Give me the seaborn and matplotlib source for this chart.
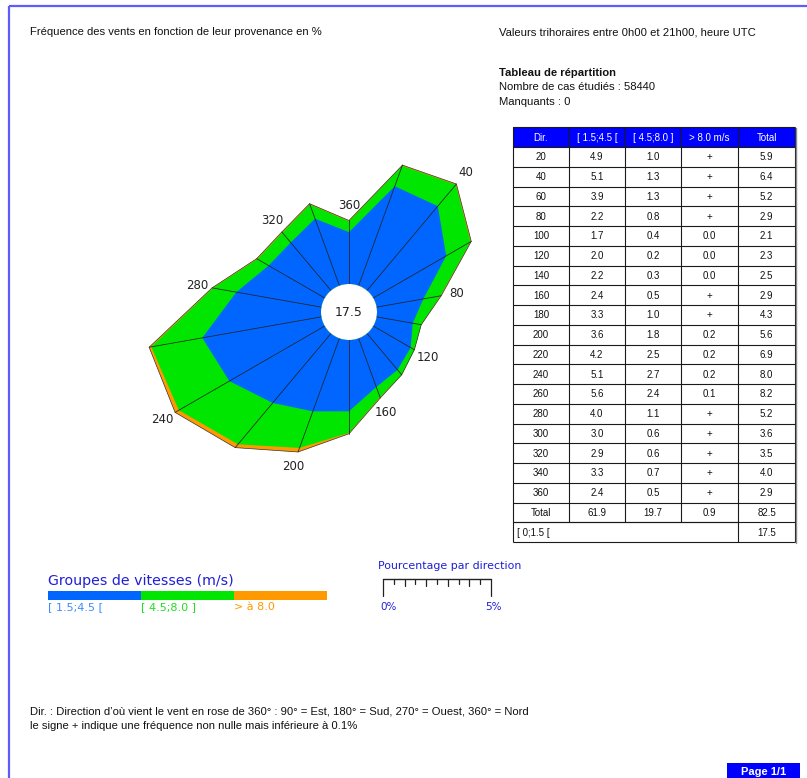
import numpy as np
import matplotlib
matplotlib.use("Agg")
import matplotlib.pyplot as plt
import seaborn as sns
from matplotlib.patches import Rectangle

# ---------------------------------------------------------------- data
TRACE = 0.04  # frequency > 0 but below 0.1 %, printed as "+"

directions = [20, 40, 60, 80, 100, 120, 140, 160, 180,
              200, 220, 240, 260, 280, 300, 320, 340, 360]
speed_low = [4.9, 5.1, 3.9, 2.2, 1.7, 2.0, 2.2, 2.4, 3.3,
             3.6, 4.2, 5.1, 5.6, 4.0, 3.0, 2.9, 3.3, 2.4]
speed_mid = [1.0, 1.3, 1.3, 0.8, 0.4, 0.2, 0.3, 0.5, 1.0,
             1.8, 2.5, 2.7, 2.4, 1.1, 0.6, 0.6, 0.7, 0.5]
speed_high = [TRACE, TRACE, TRACE, TRACE, 0.0, 0.0, 0.0, TRACE, TRACE,
              0.2, 0.2, 0.2, 0.1, TRACE, TRACE, TRACE, TRACE, TRACE]
dir_totals = [5.9, 6.4, 5.2, 2.9, 2.1, 2.3, 2.5, 2.9, 4.3,
              5.6, 6.9, 8.0, 8.2, 5.2, 3.6, 3.5, 4.0, 2.9]
column_totals = [61.9, 19.7, 0.9, 82.5]
calm_pct = 17.5

group_labels = ["[ 1.5;4.5 [", "[ 4.5;8.0 ]", "> à 8.0"]
table_header = ["Dir.", "[ 1.5;4.5 [", "[ 4.5;8.0 ]", "> 8.0 m/s", "Total"]
n_cases = 58440
n_missing = 0

# ---------------------------------------------------------------- style
sns.set_theme(style="white")
plt.rcParams["font.family"] = ["Liberation Sans", "DejaVu Sans"]
group_colors = sns.color_palette(["#0066ff", "#00e600", "#ff9900"])
label_colors = ["#3d8bff", "#22dd22", "#ff9900"]
ink_blue = "#1f1fd6"

W, H = 807, 778
fig = plt.figure(figsize=(W / 100, H / 100), dpi=100)
fig.patch.set_facecolor("white")

# page overlay in pixel units
page = fig.add_axes([0, 0, 1, 1])
page.set_xlim(0, W)
page.set_ylim(H, 0)
page.axis("off")

# page frame
page.plot([8.5, W], [5.5, 5.5], color="#5c5cff", lw=1.6, solid_capstyle="butt")
page.plot([8.5, 8.5], [5.5, H], color="#5c5cff", lw=1.6, solid_capstyle="butt")

txt = dict(fontsize=8.1, color="#111111", va="center")
page.text(30, 32, "Fréquence des vents en fonction de leur provenance en %", **txt)
page.text(499, 32, "Valeurs trihoraires entre 0h00 et 21h00, heure UTC", **txt)
page.text(499, 73, "Tableau de répartition", fontweight="bold", **txt)
page.text(499, 87, f"Nombre de cas étudiés : {n_cases}", **txt)
page.text(499, 102, f"Manquants : {n_missing}", **txt)

# ---------------------------------------------------------------- wind rose
PX_PER_PCT = 21.6
cx, cy = 349, 312
hole_px = 28
r_max = 8.7
rorigin = -hole_px / PX_PER_PCT
half = (r_max - rorigin) * PX_PER_PCT
rose = fig.add_axes([(cx - half) / W, 1 - (cy + half) / H, 2 * half / W, 2 * half / H],
                    projection="polar")
rose.set_theta_zero_location("N")
rose.set_theta_direction(-1)
rose.set_rorigin(rorigin)
rose.set_ylim(0, r_max)
rose.axis("off")
rose.patch.set_alpha(0)

theta = np.deg2rad(np.array(directions, dtype=float))
low = np.array(speed_low)
mid = np.array(speed_mid)
high = np.array(speed_high)
layers = [low, low + mid, low + mid + high]
outer = layers[-1]


def closed(a):
    return np.append(a, a[0])


for col, radius in zip(group_colors[::-1], layers[::-1]):
    rose.fill(closed(theta), closed(radius), color=col, lw=0, zorder=2)
rose.plot(closed(theta), closed(outer), color="#333333", lw=0.5, zorder=3)
for t, r in zip(theta, outer):
    rose.plot([t, t], [0, r], color="#222222", lw=0.55, zorder=3)

ring = np.linspace(0, 2 * np.pi, 120)
rose.fill(ring, np.zeros_like(ring), color="white", lw=0, zorder=4)
rose.text(0.5, 0.5, f"{calm_pct:.1f}", transform=rose.transAxes, ha="center",
          va="center", fontsize=9, family="DejaVu Sans", color="#222222", zorder=5)

for d, t, r in zip(directions, theta, outer):
    if d % 40 == 0:
        rose.text(t, r + 0.7, str(d), ha="center", va="center", fontsize=8.5,
                  family="DejaVu Sans", color="#222222", zorder=5)

# ---------------------------------------------------------------- table
col_x = [513, 569, 625, 681, 738, 795]
top, head_h, row_h = 127, 20, 19.75
line = dict(color="#1a1a1a", lw=0.8, solid_capstyle="butt")
cell = dict(fontsize=7, ha="center", va="center", color="#111111")


def fmt(v):
    return "+" if v == TRACE else f"{v:.1f}"


page.add_patch(Rectangle((col_x[0], top), col_x[-1] - col_x[0], head_h,
                         facecolor="#0000ff", edgecolor="none"))
for j, h in enumerate(table_header):
    page.text((col_x[j] + col_x[j + 1]) / 2, top + head_h / 2 + 0.5, h,
              color="white", fontsize=7, ha="center", va="center")

rows = [[str(d), fmt(a), fmt(b), fmt(c), f"{t:.1f}"]
        for d, a, b, c, t in zip(directions, speed_low, speed_mid, speed_high, dir_totals)]
rows.append(["Total"] + [f"{v:.1f}" for v in column_totals])
y0 = top + head_h
for i, row in enumerate(rows):
    yc = y0 + (i + 0.5) * row_h + 0.5
    for j, v in enumerate(row):
        page.text((col_x[j] + col_x[j + 1]) / 2, yc, v, **cell)

calm_y = y0 + len(rows) * row_h
bottom = calm_y + row_h
page.text(col_x[0] + 4, calm_y + row_h / 2 + 0.5, "[ 0;1.5 [", fontsize=7,
          ha="left", va="center", color="#111111")
page.text((col_x[4] + col_x[5]) / 2, calm_y + row_h / 2 + 0.5, f"{calm_pct:.1f}", **cell)

# horizontal rules
for i in range(len(rows) + 1):
    y = y0 + i * row_h
    page.plot([col_x[0], col_x[-1]], [y, y], **line)
page.plot([col_x[0], col_x[-1]], [top, top], **line)
page.plot([col_x[0], col_x[4]], [calm_y, calm_y], **line)
page.plot([col_x[0], col_x[-1]], [bottom, bottom], **line)
# vertical rules
for j, x in enumerate(col_x):
    if j in (0, 4, 5):
        page.plot([x, x], [top, bottom], **line)
    else:
        page.plot([x, x], [top, calm_y], **line)
page.plot([col_x[-1] + 1, col_x[-1] + 1], [top + 1, bottom + 1], color="#888888", lw=1.0)

# ---------------------------------------------------------------- speed legend
page.text(48, 581, "Groupes de vitesses (m/s)", family="DejaVu Sans", fontsize=10.2,
          color=ink_blue, va="center")
bar_x, bar_w = 48, 93
for k, (col, lab, lc) in enumerate(zip(group_colors, group_labels, label_colors)):
    page.add_patch(Rectangle((bar_x + k * bar_w, 591), bar_w, 9, facecolor=col,
                             edgecolor="none"))
    page.text(bar_x + k * bar_w, 607, lab, family="DejaVu Sans", fontsize=8,
              color=lc, va="center")

# ---------------------------------------------------------------- scale ruler
page.text(378, 566, "Pourcentage par direction", family="DejaVu Sans", fontsize=7.9,
          color=ink_blue, va="center")
rx0, ry = 383, 579
rx1 = rx0 + 5 * PX_PER_PCT
page.plot([rx0, rx1], [ry, ry], color="#222222", lw=1.0)
for k in range(11):
    x = rx0 + k * 0.5 * PX_PER_PCT
    length = 17 if k in (0, 10) else (7 if k % 2 == 0 else 5)
    page.plot([x, x], [ry, ry + length], color="#222222", lw=0.9)
page.text(rx0 - 3, 607, "0%", family="DejaVu Sans", fontsize=7.5, color=ink_blue,
          va="center")
page.text(rx1 + 2, 607, "5%", family="DejaVu Sans", fontsize=7.5, color=ink_blue,
          va="center", ha="center")

# ---------------------------------------------------------------- footnotes
page.text(30, 711, "Dir. : Direction d’où vient le vent en rose de 360° : 90° = Est, "
          "180° = Sud, 270° = Ouest, 360° = Nord", **txt)
page.text(30, 726, "le signe + indique une fréquence non nulle mais inférieure à 0.1%", **txt)

page.add_patch(Rectangle((727, 763), 73, 16, facecolor="#0000ff", edgecolor="none"))
page.text(763.5, 772, "Page 1/1", color="white", fontweight="bold", fontsize=8,
          ha="center", va="center")

fig.savefig("out.png", dpi=100)
